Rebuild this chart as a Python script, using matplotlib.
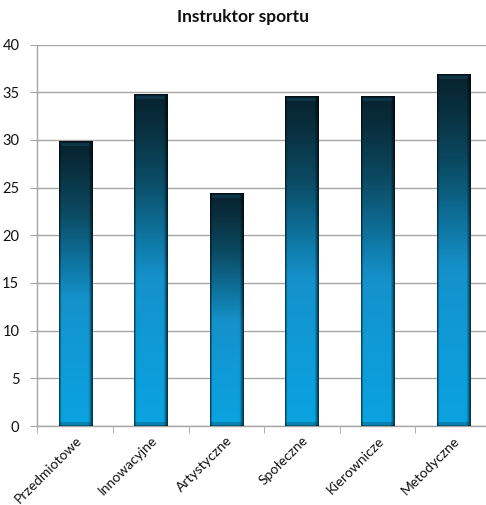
import numpy as np
import matplotlib
matplotlib.use("Agg")
import matplotlib.pyplot as plt
from matplotlib.colors import LinearSegmentedColormap

categories = ["Przedmiotowe", "Innowacyjne", "Artystyczne", "Społeczne", "Kierownicze", "Metodyczne"]
values = [29.8, 34.8, 24.4, 34.5, 34.5, 36.9]
y_ticks = [0, 5, 10, 15, 20, 25, 30, 35, 40]
title = "Instruktor sportu"

plt.rcParams["font.family"] = ["Lato", "DejaVu Sans"]

fig = plt.figure(figsize=(4.86, 5.05), dpi=100)
ax = fig.add_axes([37.4 / 486, 1 - 426 / 505, 453.6 / 486, 381.5 / 505])

# vertical colour ramp of a bar: bright blue at the base, dark teal at the top
ramp = LinearSegmentedColormap.from_list(
    "bar_ramp",
    [(0.0, "#0aa3e0"), (0.25, "#0f9ad6"), (0.45, "#1591ca"), (0.55, "#0f7aa8"),
     (0.75, "#0b4a62"), (0.9, "#09303f"), (1.0, "#07222e")])

bar_width = 0.44
px_per_unit = 381.5 / 40
px_per_cat = 453.6 / 6


def bar_image(value):
    rows = max(int(round(value * px_per_unit)), 2)
    cols = max(int(round(bar_width * px_per_cat)), 2)
    t = np.linspace(1, 0, rows)[:, None]          # 1 at top row, 0 at bottom
    rgb = ramp(np.repeat(t, cols, axis=1))[..., :3]
    shade = np.ones(cols)
    shade[0] = 0.45
    shade[1] = 0.75
    shade[-1] = 0.35
    shade[-2] = 0.5
    shade[-3] = 0.7
    shade[-4] = 0.88
    rgb = rgb * shade[None, :, None]
    # bevel at the top and bottom of the bar
    rgb[0, :, :] *= 0.5
    rgb[2:5, 2:-3, :] = np.clip(rgb[2:5, 2:-3, :] * 1.4 + 0.02, 0, 1)
    rgb[-1, :, :] *= 0.55
    rgb[-4:-1, 1:-2, :] *= 0.8
    return rgb


for i, v in enumerate(values):
    ax.imshow(bar_image(v), extent=(i - bar_width / 2, i + bar_width / 2, 0, v),
              aspect="auto", interpolation="bilinear", zorder=3)

ax.set_xlim(-0.5, len(categories) - 0.5)
ax.set_ylim(0, 40)
ax.set_yticks(y_ticks)
ax.set_yticklabels([str(t) for t in y_ticks], fontsize=10.5, color="#111111")
ax.yaxis.grid(True, color="#a6a6a6", linewidth=1.0, zorder=0)
ax.set_axisbelow(True)

ax.set_xticks(range(len(categories)))
ax.set_xticklabels(categories, rotation=45, ha="right", va="top",
                   rotation_mode="anchor", fontsize=10, color="#111111")
ax.tick_params(axis="x", which="major", length=0, pad=6)
ax.set_xticks(np.arange(-0.5, len(categories), 1.0), minor=True)
ax.tick_params(axis="x", which="minor", length=5, color="#a6a6a6", direction="out")
ax.tick_params(axis="y", length=5, color="#a6a6a6", pad=8, direction="out")

for side in ("top", "right"):
    ax.spines[side].set_visible(False)
for side in ("left", "bottom"):
    ax.spines[side].set_color("#a6a6a6")
    ax.spines[side].set_linewidth(1.0)

fig.text(0.5, 1 - 17 / 505, title, ha="center", va="center",
         fontsize=12.5, fontweight="bold", color="#111111")

fig.savefig("out.png", dpi=100)
